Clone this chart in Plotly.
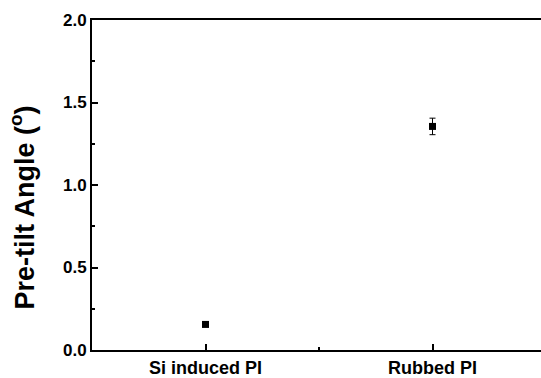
import plotly.graph_objects as go

categories = ["Si induced PI", "Rubbed PI"]
cat_pos = [1, 2]
pretilt = [0.155, 1.355]
pretilt_err = [0.0, 0.05]
y_ticks = [0.0, 0.5, 1.0, 1.5, 2.0]
y_tick_text = ["0.0", "0.5", "1.0", "1.5", "2.0"]

font_family = "Liberation Sans, Arial, sans-serif"

fig = go.Figure()
fig.add_trace(go.Scatter(
    x=cat_pos, y=pretilt, mode="markers",
    marker=dict(symbol="square", size=7, color="black"),
    error_y=dict(type="data", array=pretilt_err, visible=True,
                 color="black", thickness=1, width=3),
    showlegend=False,
))

fig.add_annotation(
    text="Pre-tilt Angle (<sup>o</sup>)", textangle=-90,
    xref="paper", yref="paper", x=-0.155, y=0.433,
    xanchor="center", yanchor="middle", showarrow=False,
    font=dict(size=27, family=font_family, color="black", weight="bold"),
)

fig.update_layout(
    width=541, height=378,
    margin=dict(l=92, r=0, t=20, b=26),
    paper_bgcolor="white", plot_bgcolor="white",
    font=dict(family=font_family, color="black"),
    xaxis=dict(
        range=[0.5, 2.478],
        tickmode="array", tickvals=cat_pos, ticktext=categories,
        ticks="inside", ticklen=6, tickwidth=1.5, tickcolor="black",
        minor=dict(tickvals=[1.5], ticks="inside", ticklen=3, tickwidth=1.5, tickcolor="black"),
        showline=True, linecolor="black", linewidth=2, mirror=True,
        showgrid=False, zeroline=False,
        tickfont=dict(size=18, family=font_family, color="black", weight="bold"),
    ),
    yaxis=dict(
        range=[0, 2.0],
        tickmode="array", tickvals=y_ticks, ticktext=y_tick_text,
        ticks="inside", ticklen=6, tickwidth=1.5, tickcolor="black",
        minor=dict(dtick=0.25, ticks="inside", ticklen=3, tickwidth=1.5, tickcolor="black"),
        showline=True, linecolor="black", linewidth=2, mirror=False,
        showgrid=False, zeroline=False,
        tickfont=dict(size=17, family=font_family, color="black", weight="bold"),
    ),
)

fig.write_html("out.html")
